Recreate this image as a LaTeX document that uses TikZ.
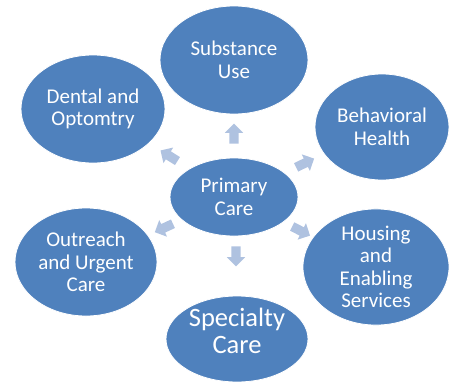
\documentclass[tikz,border=0pt]{standalone}
\usepackage{fontspec}
\setmainfont{Carlito}
\usetikzlibrary{shapes.arrows,shapes.geometric}
\definecolor{blobc}{HTML}{4F81BD}
\definecolor{arrc}{HTML}{AFC2E0}
\tikzset{
  blob/.style={ellipse, fill=blobc, draw=white, line width=0.8pt, inner sep=0pt, text=white, align=center,
    font=\fontsize{21}{22.5}\selectfont},
  blocktip/.style={single arrow, fill=arrc, draw=none, minimum height=20pt, inner sep=4.5pt,
    single arrow head extend=4.5pt, anchor=center},
  bigtxt/.style={text=white, align=center, inner sep=0pt, font=\fontsize{26.5}{27.5}\selectfont}
}
\begin{document}
\begin{tikzpicture}[x=1pt,y=-1pt]
\useasboundingbox (0,0) rectangle (453,381);
\node[blob, minimum width=128pt, minimum height=78pt] (prim) at (234,197) {Primary\\Care};
\node[blob, minimum width=148pt, minimum height=108pt] (subst) at (234,60) {Substance\\Use};
\node[blob, minimum width=144pt, minimum height=108pt] (dent) at (93,109) {Dental and\\Optomtry};
\node[blob, minimum width=134pt, minimum height=106pt] (behav) at (382,127) {Behavioral\\Health};
\node[blob, minimum width=142pt, minimum height=108pt] (outr) at (86,262) {Outreach\\and Urgent\\Care};
\node[blob, minimum width=146pt, minimum height=112pt] (hous) at (376,267) {Housing\\and\\Enabling\\Services};
\node[blob, minimum width=142pt, minimum height=86pt] (spec) at (237,339) {};
\node[bigtxt] (spect) at (237,331) {Specialty\\Care};
\node[blocktip, rotate=90] (a1) at (234,136) {};
\node[blocktip, rotate=148] (a2) at (171,157) {};
\node[blocktip, rotate=26] (a3) at (303,164) {};
\node[blocktip, rotate=205] (a4) at (166,227) {};
\node[blocktip, rotate=-27] (a5) at (299,230) {};
\node[blocktip, rotate=-90] (a6) at (236,254) {};
\end{tikzpicture}
\end{document}
